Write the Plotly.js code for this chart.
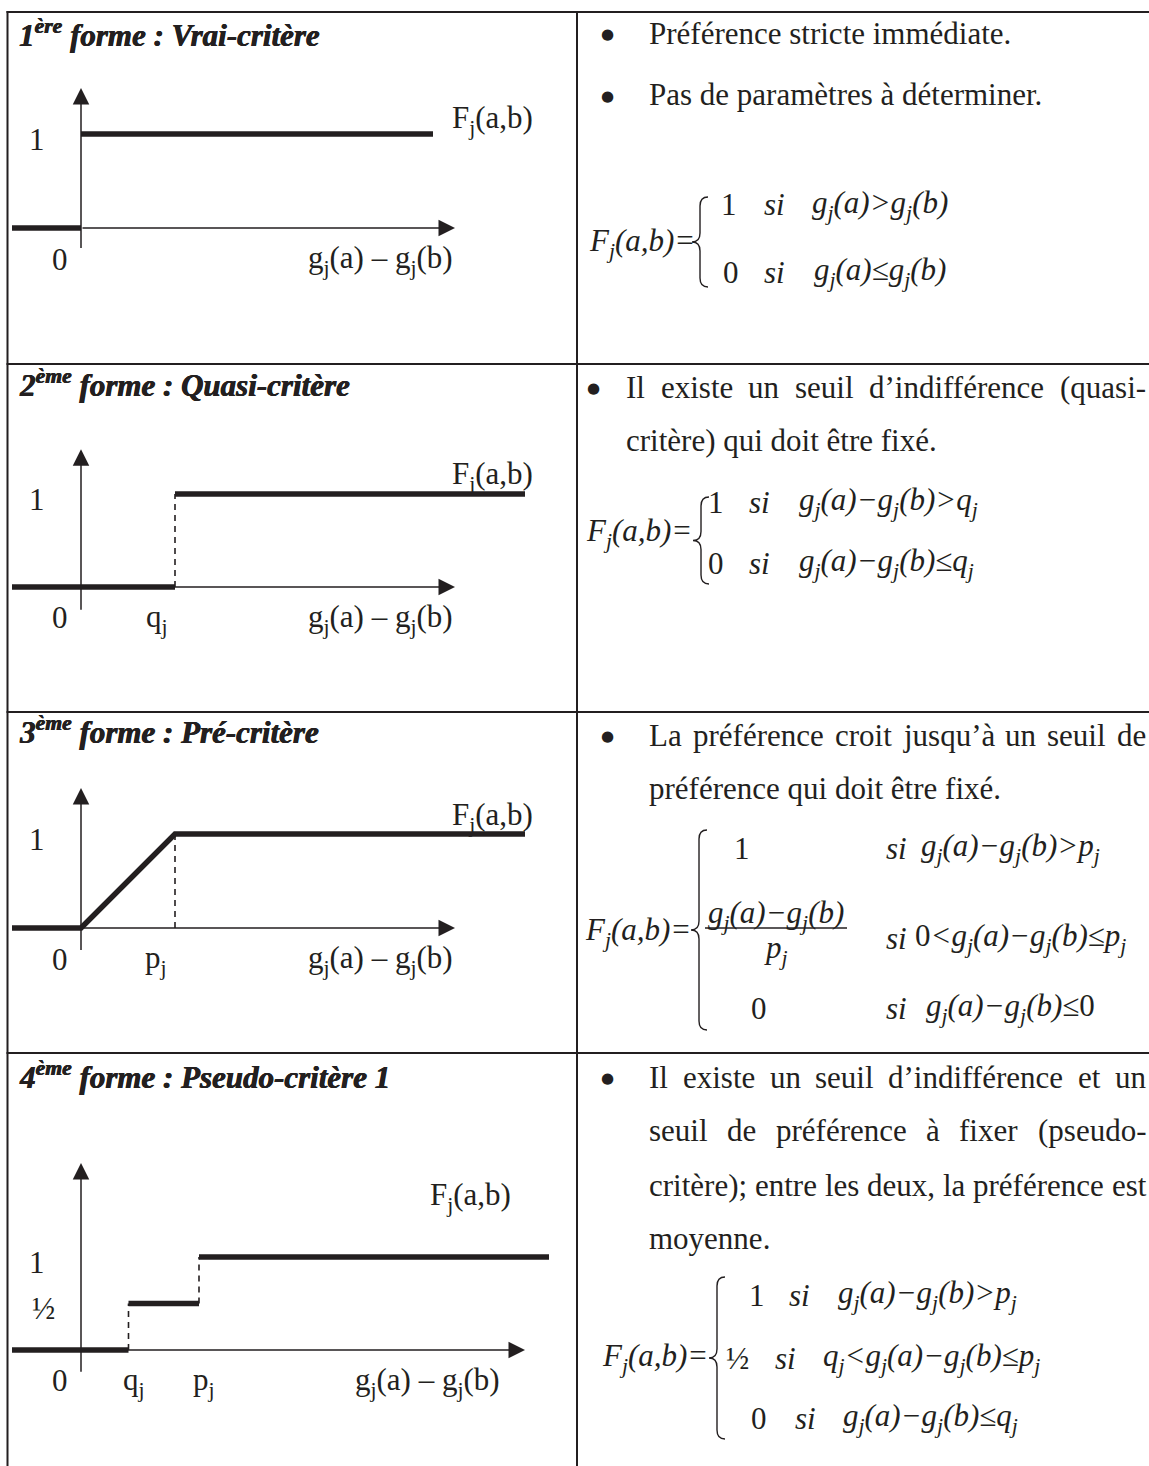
<!DOCTYPE html>
<html><head><meta charset="utf-8">
<script src="https://cdn.plot.ly/plotly-3.0.1.min.js"></script>
<style>html,body{margin:0;padding:0;background:#fff;overflow:hidden}#chart{width:1149px;height:1466px}</style>
</head><body><div id="chart"></div>
<script>
// ================= DATA =================
// 1ère forme : Vrai-critère
const vraiX = [-6.9, 0, null, 0, 35.2];
const vraiY = [0, 0, null, 1, 1];
// 2ème forme : Quasi-critère (q_j threshold)
const quasiX = [-6.9, 9.4, null, 9.4, 44.4];
const quasiY = [0, 0, null, 1, 1];
const quasiDashX = [9.4, 9.4];
const quasiDashY = [0, 1];
// 3ème forme : Pré-critère (p_j threshold)
const preX = [-6.9, 0, 9.4, 44.4];
const preY = [0, 0, 1, 1];
const preDashX = [9.4, 9.4];
const preDashY = [0, 1];
// 4ème forme : Pseudo-critère 1 (q_j, p_j thresholds)
const pseudoX = [-6.9, 4.75, null, 4.75, 11.8, null, 11.8, 46.8];
const pseudoY = [0, 0, null, 0.5, 0.5, null, 1, 1];
const pseudoDashX = [4.75, 4.75, null, 11.8, 11.8];
const pseudoDashY = [0, 0.5, null, 0.5, 1];

const titles = [
  '1<sup>ère</sup> forme : Vrai-critère',
  '2<sup>ème</sup> forme : Quasi-critère',
  '3<sup>ème</sup> forme : Pré-critère',
  '4<sup>ème</sup> forme : Pseudo-critère 1'
];
const fLabel = 'F<sub>j</sub>(a,b)';
const xLabel = 'g<sub>j</sub>(a) – g<sub>j</sub>(b)';
const zeroLabel = '0';
const levelLabels = [['1'], ['1'], ['1'], ['1', '½']];
const levelValues = [[1], [1], [1], [1, 0.5]];
const thresholdLabels = [[], ['q<sub>j</sub>'], ['p<sub>j</sub>'], ['q<sub>j</sub>', 'p<sub>j</sub>']];

const paraRow1 = [['Préférence stricte immédiate.'], ['Pas de paramètres à déterminer.']];
const paraRow2 = [['Il existe un seuil d’indifférence (quasi-', 'critère) qui doit être fixé.']];
const paraRow3 = [['La préférence croit jusqu’à un seuil de', 'préférence qui doit être fixé.']];
const paraRow4 = [['Il existe un seuil d’indifférence et un', 'seuil de préférence à fixer (pseudo-', 'critère); entre les deux, la préférence est', 'moyenne.']];

const J = '<sub>j</sub>';
const lhs = '<i>F' + J + '(a,b)=</i>';
const casesRow1 = { vals: ['1', '0'], conds: ['g' + J + '(a)&gt;g' + J + '(b)', 'g' + J + '(a)≤g' + J + '(b)'] };
const casesRow2 = { vals: ['1', '0'], conds: ['g' + J + '(a)−g' + J + '(b)&gt;q' + J, 'g' + J + '(a)−g' + J + '(b)≤q' + J] };
const casesRow3 = { vals: ['1', 'FRAC', '0'], conds: ['g' + J + '(a)−g' + J + '(b)&gt;p' + J, '<span style="font-style:normal">0</span>&lt;g' + J + '(a)−g' + J + '(b)≤p' + J, 'g' + J + '(a)−g' + J + '(b)≤<span style="font-style:normal">0</span>'] };
const fracNum = 'g' + J + '(a)−g' + J + '(b)';
const fracDen = 'p' + J;
const casesRow4 = { vals: ['1', '½', '0'], conds: ['g' + J + '(a)−g' + J + '(b)&gt;p' + J, 'q' + J + '&lt;g' + J + '(a)−g' + J + '(b)≤p' + J, 'g' + J + '(a)−g' + J + '(b)≤q' + J] };

// ================= LAYOUT GEOMETRY =================
const W = 1149, H = 1466;
const INK = '#231f20';
const FONT = '"Liberation Serif", "Times New Roman", serif';
const FS = 31;
const px = v => v / W;
const py = v => 1 - v / H;

const rows = [
  { top: 12, bottom: 364, oy: 228, ky: 94, yTip: 1.49, yTail: -0.23, xTip: 37.4, fY: 1.15, fX: 36.9, xLabRight: 37.4, thrX: [] },
  { top: 364, bottom: 712, oy: 587, ky: 93, yTip: 1.48, yTail: -0.26, xTip: 37.4, fY: 1.19, fX: 36.9, xLabRight: 37.4, thrX: [7.6] },
  { top: 712, bottom: 1053, oy: 928, ky: 94, yTip: 1.49, yTail: -0.25, xTip: 37.4, fY: 1.18, fX: 36.9, xLabRight: 37.4, thrX: [7.5] },
  { top: 1053, bottom: 1466, oy: 1350, ky: 93, yTip: 2.01, yTail: -0.25, xTip: 44.4, fY: 1.65, fX: 34.7, xLabRight: 42.1, thrX: [5.3, 12.3] }
];
const OX = 81, KX = 10;
const titleY = [33, 384, 730, 1075];

const traces = [];
const annotations = [];
const shapes = [];
const layout = {
  width: W, height: H, margin: { l: 0, r: 0, t: 0, b: 0 },
  paper_bgcolor: '#fff', plot_bgcolor: 'rgba(0,0,0,0)', showlegend: false,
  font: { family: FONT, size: FS, color: INK },
  annotations: annotations, shapes: shapes
};

const series = [
  { solid: [vraiX, vraiY], dash: null },
  { solid: [quasiX, quasiY], dash: [quasiDashX, quasiDashY] },
  { solid: [preX, preY], dash: [preDashX, preDashY] },
  { solid: [pseudoX, pseudoY], dash: [pseudoDashX, pseudoDashY] }
];

rows.forEach((r, i) => {
  const n = i === 0 ? '' : String(i + 1);
  const xa = 'x' + n, ya = 'y' + n;
  const xl = 9, xr = 575;
  layout['xaxis' + n] = { domain: [px(xl), px(xr)], range: [(xl - OX) / KX, (xr - OX) / KX], visible: false, fixedrange: true, anchor: ya };
  const yb = r.bottom - 2, yt = r.top + 2;
  layout['yaxis' + n] = { domain: [py(yb), py(yt)], range: [(r.oy - yb) / r.ky, (r.oy - yt) / r.ky], visible: false, fixedrange: true, anchor: xa };

  // function curve
  const s = series[i];
  if (s.dash) traces.push({ x: s.dash[0], y: s.dash[1], xaxis: xa, yaxis: ya, mode: 'lines', hoverinfo: 'skip', line: { color: INK, width: 1.6, dash: '6px,5px' } });
  traces.push({ x: s.solid[0], y: s.solid[1], xaxis: xa, yaxis: ya, mode: 'lines', hoverinfo: 'skip', line: { color: INK, width: 5.5 } });

  // axes arrows
  const arrow = { text: '', showarrow: true, arrowhead: 2, arrowsize: 2.2, arrowwidth: 1.5, arrowcolor: INK, standoff: 0, startstandoff: 0, xref: xa, yref: ya, axref: xa, ayref: ya };
  annotations.push(Object.assign({}, arrow, { x: 0, y: r.yTip, ax: 0, ay: r.yTail }));
  annotations.push(Object.assign({}, arrow, { x: r.xTip, y: 0, ax: 0, ay: 0 }));

  const lab = { showarrow: false, xref: xa, yref: ya, font: { family: FONT, size: FS, color: INK } };
  // level labels
  levelLabels[i].forEach((t, k) => {
    const v = levelValues[i][k];
    annotations.push(Object.assign({}, lab, { text: t, x: v === 1 ? -4.4 : -3.8, y: v - 0.055, xanchor: 'center', yanchor: 'middle' }));
  });
  annotations.push(Object.assign({}, lab, { text: zeroLabel, x: -2.1, y: -0.33, xanchor: 'center', yanchor: 'middle' }));
  annotations.push(Object.assign({}, lab, { text: fLabel, x: r.fX, y: r.fY, xanchor: 'left', yanchor: 'middle' }));
  annotations.push(Object.assign({}, lab, { text: xLabel, x: r.xLabRight, y: -0.34, xanchor: 'right', yanchor: 'middle' }));
  thresholdLabels[i].forEach((t, k) => {
    annotations.push(Object.assign({}, lab, { text: t, x: r.thrX[k], y: -0.34, xanchor: 'center', yanchor: 'middle' }));
  });

  // title
  annotations.push({ text: '<b><i>' + titles[i] + '</i></b>', showarrow: false, xref: 'paper', yref: 'paper', x: px(17), y: py(titleY[i]), xanchor: 'left', yanchor: 'middle',
    font: { family: FONT, size: FS, color: INK, weight: 'bold', shadow: '0.5px 0 0 #231f20, -0.3px 0 0 #231f20' } });
});

// ================= TABLE BORDERS =================
function hline(y, x0, x1) { shapes.push({ type: 'line', xref: 'paper', yref: 'paper', x0: px(x0), x1: px(x1), y0: py(y), y1: py(y), line: { color: INK, width: 2 } }); }
function vline(x, y0, y1) { shapes.push({ type: 'line', xref: 'paper', yref: 'paper', x0: px(x), x1: px(x), y0: py(y0), y1: py(y1), line: { color: INK, width: 2 } }); }
hline(12, 6.5, 1150);
[364, 712, 1053].forEach(y => hline(y, 6.5, 1150));
vline(7.5, 11, 1467);
vline(577, 11, 1467);

// ================= RIGHT COLUMN TEXT =================
const canvas = document.createElement('canvas');
const ctx = canvas.getContext('2d');
function measure(t, size) { ctx.font = size + 'px "Liberation Serif"'; return ctx.measureText(t).width; }
function txt(text, x, y, xanchor, size, extra) {
  annotations.push(Object.assign({ text: text, showarrow: false, xref: 'paper', yref: 'paper', x: px(x), y: py(y), xanchor: xanchor, yanchor: 'middle', borderpad: 0, font: { family: FONT, size: size || FS, color: INK } }, extra || {}));
}
function paragraph(lines, bulletX, x0, x1, ys) {
  txt('●', bulletX, ys[0] + 1, 'center', 15, { font: { family: '"DejaVu Sans", sans-serif', size: 15, color: INK } });
  lines.forEach((line, li) => {
    const last = li === lines.length - 1;
    if (last) { txt(line, x0, ys[li], 'left'); return; }
    const words = line.split(' ');
    const widths = words.map(w => measure(w, FS));
    const total = widths.reduce((a, b) => a + b, 0);
    const gap = (x1 - x0 - total) / (words.length - 1);
    let x = x0;
    words.forEach((w, k) => { txt(w, x, ys[li], 'left'); x += widths[k] + gap; });
  });
}
const JR = 1145;
paragraph(paraRow1[0], 607, 648, JR, [33]);
paragraph(paraRow1[1], 607, 648, JR, [95]);
paragraph(paraRow2[0], 593, 625, JR, [387, 440]);
paragraph(paraRow3[0], 607, 648, JR, [735, 788]);
paragraph(paraRow4[0], 607, 648, JR, [1077, 1130, 1185, 1238]);

// ================= FORMULAS =================
function brace(x, t, b) {
  const m = (t + b) / 2, h = 8, r = 9;
  const P = (a, c) => px(a).toFixed(5) + ',' + py(c).toFixed(5);
  const path = 'M' + P(x + h, t) + ' Q' + P(x, t) + ' ' + P(x, t + r) + ' L' + P(x, m - r) + ' Q' + P(x, m) + ' ' + P(x - h, m) +
    ' Q' + P(x, m) + ' ' + P(x, m + r) + ' L' + P(x, b - r) + ' Q' + P(x, b) + ' ' + P(x + h, b);
  shapes.push({ type: 'path', xref: 'paper', yref: 'paper', path: path, line: { color: INK, width: 1.4 } });
}
function formula(cfg, cases) {
  txt(lhs, cfg.lhsRight, cfg.lhsY, 'right', FS);
  brace(cfg.braceX, cfg.braceTop, cfg.braceBot);
  cases.vals.forEach((v, k) => {
    const c = cfg.cases[k];
    if (v === 'FRAC') {
      txt('<i>' + fracNum + '</i>', cfg.frac.cx, cfg.frac.numY, 'center', FS);
      txt('<i>' + fracDen + '</i>', cfg.frac.cx, cfg.frac.denY, 'center', FS);
      shapes.push({ type: 'line', xref: 'paper', yref: 'paper', x0: px(cfg.frac.x0), x1: px(cfg.frac.x1), y0: py(cfg.frac.barY), y1: py(cfg.frac.barY), line: { color: INK, width: 1.4 } });
    } else {
      txt(v, c.valX, c.y, 'center', FS);
    }
    txt('<i>si</i>', c.siX, c.y, 'left', FS);
    txt('<i>' + cases.conds[k] + '</i>', c.condX, c.y, 'left', FS);
  });
}
formula({ lhsRight: 696, lhsY: 243, braceX: 700, braceTop: 197, braceBot: 287,
  cases: [{ y: 205, valX: 729, siX: 763, condX: 811 }, { y: 272, valX: 731, siX: 763, condX: 813 }] }, casesRow1);
formula({ lhsRight: 693, lhsY: 533, braceX: 701, braceTop: 497, braceBot: 584,
  cases: [{ y: 502, valX: 716, siX: 748, condX: 798 }, { y: 563, valX: 716, siX: 748, condX: 798 }] }, casesRow2);
formula({ lhsRight: 692, lhsY: 932, braceX: 699, braceTop: 830, braceBot: 1030,
  frac: { cx: 776, numY: 915, denY: 950, barY: 928, x0: 705, x1: 847 },
  cases: [{ y: 848, valX: 742, siX: 885, condX: 920 }, { y: 938, valX: 774, siX: 885, condX: 914 }, { y: 1008, valX: 759, siX: 885, condX: 925 }] }, casesRow3);
formula({ lhsRight: 709, lhsY: 1358, braceX: 717, braceTop: 1277, braceBot: 1439,
  cases: [{ y: 1295, valX: 757, siX: 788, condX: 837 }, { y: 1358, valX: 737, siX: 774, condX: 822 }, { y: 1418, valX: 759, siX: 794, condX: 842 }] }, casesRow4);

Plotly.newPlot('chart', traces, layout, { staticPlot: true, displayModeBar: false });
</script>
</body></html>
